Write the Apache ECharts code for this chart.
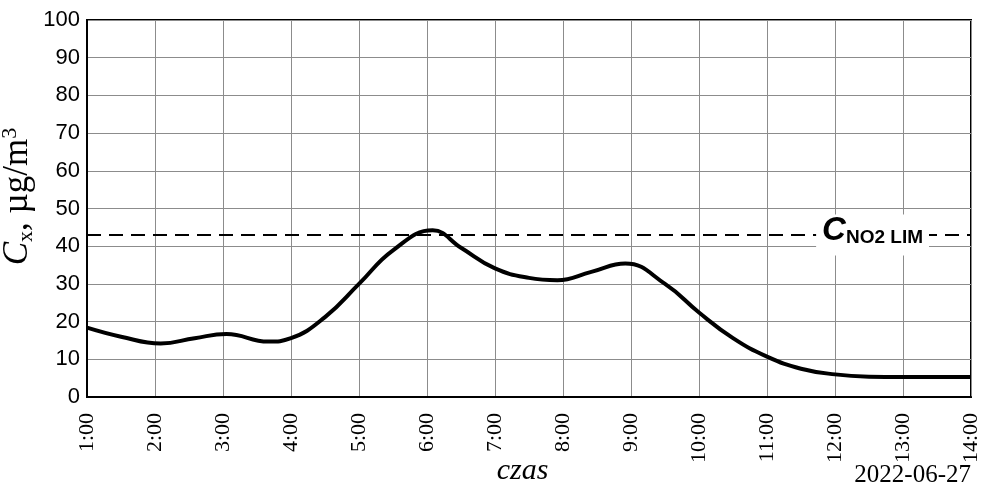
<!DOCTYPE html>
<html>
<head>
<meta charset="utf-8">
<script src="https://cdn.jsdelivr.net/npm/echarts@6/dist/echarts.min.js"></script>
<style>
  html, body { margin: 0; padding: 0; background: #fff; }
  #chart { width: 982px; height: 484px; }
</style>
</head>
<body>
<div id="chart"></div>
<script>
// NO2 concentration readings over the day (clock time, µg/m³)
var sampleTimes = ['1:00','1:30','2:05','2:35','3:03','3:40','4:00','4:30','5:00','5:30','6:05','6:30','7:00','7:30','7:55','8:25','8:55','9:30','10:00','10:30','11:00','11:30','12:00','12:30','13:00','13:30','14:00'];
var concentration = [18.4,16.0,14.2,15.6,16.7,14.7,15.6,21.2,30.0,38.9,44.2,39.6,34.1,31.6,31.0,33.2,35.4,30.0,22.4,15.6,10.7,7.5,6.0,5.4,5.3,5.3,5.3];
var limitValue = 43;
var yTicks = [0,10,20,30,40,50,60,70,80,90,100];
var hourRange = [1, 14];
var dateLabel = '2022-06-27';

function toHours(t) {
  var p = t.split(':');
  return +p[0] + (+p[1]) / 60;
}
var seriesData = sampleTimes.map(function (t, i) { return [toHours(t), concentration[i]]; });

var chart = echarts.init(document.getElementById('chart'));
chart.setOption({
  animation: false,
  backgroundColor: '#fff',
  grid: {
    left: 87, right: 11, top: 20, bottom: 87,
    outerBoundsMode: 'none',
    containLabel: false,
    show: true, borderColor: '#000', borderWidth: 2, backgroundColor: 'transparent'
  },
  xAxis: {
    type: 'value',
    min: hourRange[0], max: hourRange[1], interval: 1,
    name: 'czas',
    nameLocation: 'middle',
    nameGap: 59,
    nameMoveOverlap: false,
    nameTextStyle: { fontFamily: 'Liberation Serif', fontStyle: 'italic', fontSize: 30, color: '#000', padding: [0, 13, 0, 0] },
    axisLine: { show: true, lineStyle: { color: '#000', width: 2 } },
    axisTick: { show: false },
    splitLine: { show: true, lineStyle: { color: '#8c8c8c', width: 1 } },
    axisLabel: {
      rotate: 90,
      margin: 16,
      fontFamily: 'Liberation Serif',
      fontSize: 22,
      color: '#000',
      formatter: function (v) { return v + ':00'; }
    }
  },
  yAxis: {
    type: 'value',
    min: yTicks[0], max: yTicks[yTicks.length - 1], interval: 10,
    name: '{c|C}{sub|x}{t|, µg/m}{sup|3}',
    nameLocation: 'middle',
    nameGap: 50,
    nameRotate: 90,
    nameMoveOverlap: false,
    nameTextStyle: {
      color: '#000',
      fontStyle: 'normal',
      padding: [0, 0, 0, 24],
      rich: {
        c: { fontFamily: 'Liberation Serif', fontStyle: 'italic', fontSize: 35, color: '#000' },
        sub: { fontFamily: 'Liberation Serif', fontStyle: 'normal', fontSize: 22, color: '#000', verticalAlign: 'bottom', padding: [14, 0, 0, 0] },
        t: { fontFamily: 'Liberation Serif', fontStyle: 'normal', fontSize: 35, color: '#000' },
        sup: { fontFamily: 'Liberation Serif', fontStyle: 'normal', fontSize: 22, color: '#000', verticalAlign: 'top', padding: [0, 0, 16, 0] }
      }
    },
    axisLine: { show: true, lineStyle: { color: '#000', width: 2 } },
    axisTick: { show: false },
    splitLine: { show: true, lineStyle: { color: '#8c8c8c', width: 1 } },
    axisLabel: {
      margin: 7,
      fontFamily: 'Liberation Sans',
      fontSize: 22,
      color: '#000'
    }
  },
  graphic: [{
    type: 'text',
    right: 11,
    top: 463,
    style: { text: dateLabel, fontFamily: 'Liberation Serif', fontSize: 25, fill: '#000' }
  }],
  series: [{
    type: 'line',
    data: seriesData,
    smooth: 0.45,
    showSymbol: false,
    lineStyle: { color: '#000', width: 4 },
    markLine: {
      silent: true,
      symbol: 'none',
      lineStyle: { color: '#000', width: 2, type: [14, 8] },
      label: {
        show: true,
        position: 'insideEnd',
        distance: [42, 0],
        formatter: '{c|C}{s|NO2 LIM}',
        backgroundColor: '#fff',
        padding: [0, 6, 8, 6],
        rich: {
          c: { fontFamily: 'Liberation Sans', fontWeight: 'bold', fontStyle: 'italic', fontSize: 33, color: '#000' },
          s: { fontFamily: 'Liberation Sans', fontWeight: 'bold', fontStyle: 'normal', fontSize: 19, color: '#000', verticalAlign: 'bottom', padding: [13, 0, 0, 0] }
        }
      },
      data: [{ yAxis: limitValue }]
    }
  }]
});
</script>
</body>
</html>
